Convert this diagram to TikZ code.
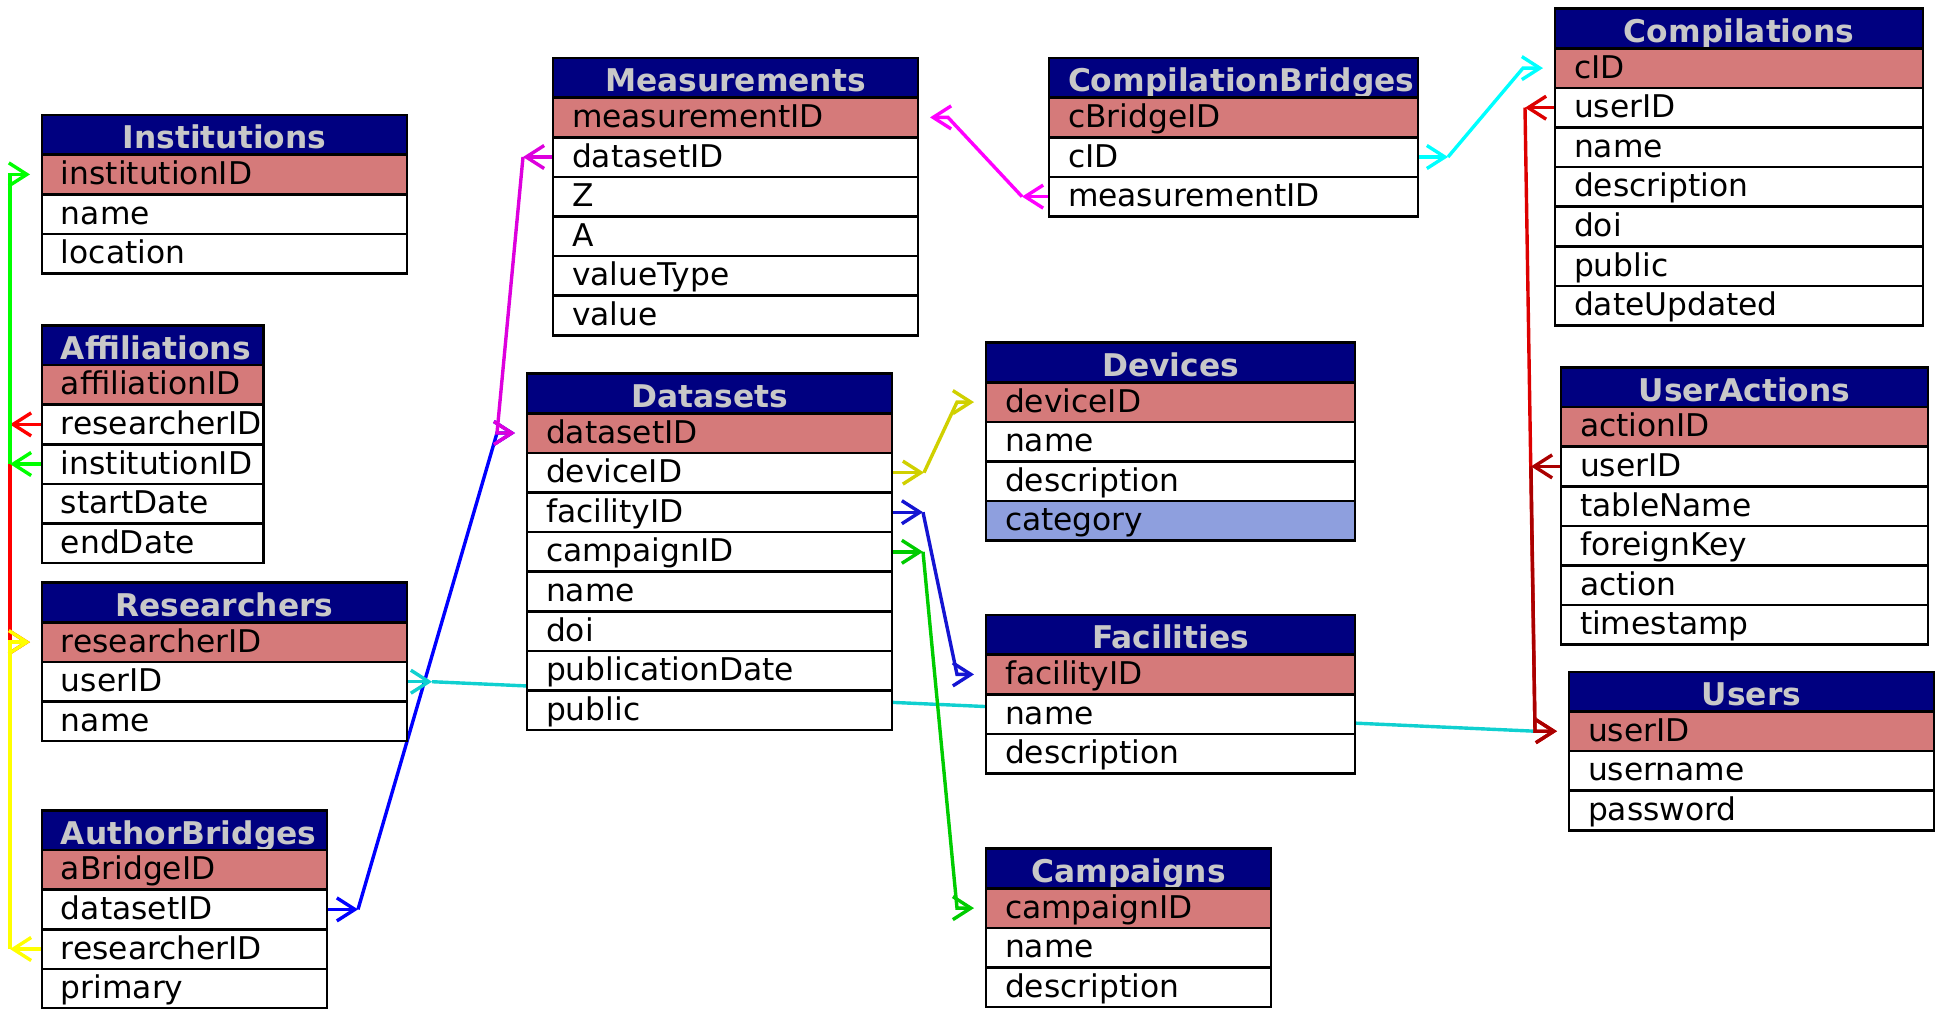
\documentclass[tikz,border=0pt]{standalone}
\usepackage{fontspec}
\setmainfont{DejaVu Sans}
\usetikzlibrary{positioning,arrows.meta,backgrounds}
\definecolor{hdrnavy}{HTML}{000080}
\definecolor{hdrgray}{HTML}{C8C8C8}
\definecolor{pkred}{HTML}{D57A7A}
\definecolor{catblue}{HTML}{8E9FDE}
\definecolor{lgreen}{HTML}{00FF00}
\definecolor{lred}{HTML}{FF0000}
\definecolor{lyellow}{HTML}{FFFF00}
\definecolor{lmagenta}{HTML}{DD00DD}
\definecolor{lpink}{HTML}{FF00FF}
\definecolor{lblue}{HTML}{0000FF}
\definecolor{lteal}{HTML}{10D0D0}
\definecolor{lolive}{HTML}{D0D000}
\definecolor{lmidblue}{HTML}{1414D2}
\definecolor{lgrass}{HTML}{00CC00}
\definecolor{lcyan}{HTML}{00FFFF}
\definecolor{lcrimson}{HTML}{DD0000}
\definecolor{ldarkred}{HTML}{AA0000}
\newcommand{\cellfont}{\fontsize{15.65}{18}\selectfont}
\tikzset{
    cell/.style={
        rectangle,
        draw,
        line width=1.3pt,
        outer sep=0pt,
        inner xsep=9.5pt,
        inner ysep=0pt,
        minimum height=19.8pt,
        text height=13pt,
        text depth=3pt,
        font=\cellfont
    },
    tblhead/.style={cell, fill=hdrnavy, text=hdrgray, font=\cellfont\bfseries, align=center,
        text height=15pt, text depth=1pt},
    field/.style={cell, fill=white, align=left},
    pkey/.style={field, fill=pkred},
    catfield/.style={field, fill=catblue},
    tw/.style={every node/.append style={text width=#1}},
    link/.style={line width=1.7pt, draw=#1},
    fk/.style={-{Straight Barb[length=9pt,width=11.5pt]}},
    pk/.style={-{Straight Barb[length=9pt,width=11.5pt]}, shorten >=6pt},
}
\begin{document}
\begin{tikzpicture}[x=0.5pt, y=-0.5pt]
\useasboundingbox (0,0) rectangle (1940,1008);

% Left column
\begin{scope}[tw=163.5pt]
\node[tblhead, anchor=north west] (inst) at (42,115) {Institutions};
\node[pkey, below=0pt of inst] (inst-1) {institutionID};
\node[field, below=0pt of inst-1] (inst-2) {name};
\node[field, below=0pt of inst-2] (inst-3) {location};
\end{scope}

\begin{scope}[tw=91.75pt]
\node[tblhead, anchor=north west] (aff) at (42,325.4) {Affiliations};
\node[pkey, below=0pt of aff] (aff-1) {affiliationID};
\node[field, below=0pt of aff-1] (aff-2) {researcherID};
\node[field, below=0pt of aff-2] (aff-3) {institutionID};
\node[field, below=0pt of aff-3] (aff-4) {startDate};
\node[field, below=0pt of aff-4] (aff-5) {endDate};
\end{scope}

\begin{scope}[tw=163.5pt]
\node[tblhead, anchor=north west] (res) at (42,582.7) {Researchers};
\node[pkey, below=0pt of res] (res-1) {researcherID};
\node[field, below=0pt of res-1] (res-2) {userID};
\node[field, below=0pt of res-2] (res-3) {name};
\end{scope}

\begin{scope}[tw=123.5pt]
\node[tblhead, anchor=north west] (ab) at (42,810.4) {AuthorBridges};
\node[pkey, below=0pt of ab] (ab-1) {aBridgeID};
\node[field, below=0pt of ab-1] (ab-2) {datasetID};
\node[field, below=0pt of ab-2] (ab-3) {researcherID};
\node[field, below=0pt of ab-3] (ab-4) {primary};
\end{scope}

% Middle column
\begin{scope}[tw=163.5pt]
\node[tblhead, anchor=north west] (meas) at (553,58) {Measurements};
\node[pkey, below=0pt of meas] (meas-1) {measurementID};
\node[field, below=0pt of meas-1] (meas-2) {datasetID};
\node[field, below=0pt of meas-2] (meas-3) {Z};
\node[field, below=0pt of meas-3] (meas-4) {A};
\node[field, below=0pt of meas-4] (meas-5) {valueType};
\node[field, below=0pt of meas-5] (meas-6) {value};

\node[tblhead, anchor=north west] (ds) at (527,373.6) {Datasets};
\node[pkey, below=0pt of ds] (ds-1) {datasetID};
\node[field, below=0pt of ds-1] (ds-2) {deviceID};
\node[field, below=0pt of ds-2] (ds-3) {facilityID};
\node[field, below=0pt of ds-3] (ds-4) {campaignID};
\node[field, below=0pt of ds-4] (ds-5) {name};
\node[field, below=0pt of ds-5] (ds-6) {doi};
\node[field, below=0pt of ds-6] (ds-7) {publicationDate};
\node[field, below=0pt of ds-7] (ds-8) {public};
\end{scope}

\begin{scope}[tw=165.5pt]
\node[tblhead, anchor=north west] (cb) at (1049,58) {CompilationBridges};
\node[pkey, below=0pt of cb] (cb-1) {cBridgeID};
\node[field, below=0pt of cb-1] (cb-2) {cID};
\node[field, below=0pt of cb-2] (cb-3) {measurementID};

\node[tblhead, anchor=north west] (dev) at (986,342.7) {Devices};
\node[pkey, below=0pt of dev] (dev-1) {deviceID};
\node[field, below=0pt of dev-1] (dev-2) {name};
\node[field, below=0pt of dev-2] (dev-3) {description};
\node[catfield, below=0pt of dev-3] (dev-4) {category};

\node[tblhead, anchor=north west] (fac) at (986,615) {Facilities};
\node[pkey, below=0pt of fac] (fac-1) {facilityID};
\node[field, below=0pt of fac-1] (fac-2) {name};
\node[field, below=0pt of fac-2] (fac-3) {description};
\end{scope}

\begin{scope}[tw=123.5pt]
\node[tblhead, anchor=north west] (camp) at (986,848.7) {Campaigns};
\node[pkey, below=0pt of camp] (camp-1) {campaignID};
\node[field, below=0pt of camp-1] (camp-2) {name};
\node[field, below=0pt of camp-2] (camp-3) {description};
\end{scope}

% Right column
\begin{scope}[tw=165pt]
\node[tblhead, anchor=north west] (comp) at (1555,8.7) {Compilations};
\node[pkey, below=0pt of comp] (comp-1) {cID};
\node[field, below=0pt of comp-1] (comp-2) {userID};
\node[field, below=0pt of comp-2] (comp-3) {name};
\node[field, below=0pt of comp-3] (comp-4) {description};
\node[field, below=0pt of comp-4] (comp-5) {doi};
\node[field, below=0pt of comp-5] (comp-6) {public};
\node[field, below=0pt of comp-6] (comp-7) {dateUpdated};
\end{scope}

\begin{scope}[tw=164.5pt]
\node[tblhead, anchor=north west] (ua) at (1561,367.4) {UserActions};
\node[pkey, below=0pt of ua] (ua-1) {actionID};
\node[field, below=0pt of ua-1] (ua-2) {userID};
\node[field, below=0pt of ua-2] (ua-3) {tableName};
\node[field, below=0pt of ua-3] (ua-4) {foreignKey};
\node[field, below=0pt of ua-4] (ua-5) {action};
\node[field, below=0pt of ua-5] (ua-6) {timestamp};
\end{scope}

\begin{scope}[tw=163.5pt]
\node[tblhead, anchor=north west] (usr) at (1569,671.8) {Users};
\node[pkey, below=0pt of usr] (usr-1) {userID};
\node[field, below=0pt of usr-1] (usr-2) {username};
\node[field, below=0pt of usr-2] (usr-3) {password};
\end{scope}

% Foreign keys, drawn behind the tables
\begin{scope}[on background layer]
% AuthorBridges.datasetID -> Datasets.datasetID
\draw[link=lblue, fk] (ab-2.east) -- ++(31,0) coordinate (b1);
\draw[link=lblue, pk] (b1) -- ([xshift=-15pt]ds-1.west) -- (ds-1.west);

% Researchers.userID -> Users.userID
\draw[link=lteal, fk] (res-2.east) -- ++(25,0) coordinate (t1);
\draw[link=lteal] (t1) -- ([xshift=-17pt]usr-1.west);

% Measurements.datasetID -> Datasets.datasetID
\draw[link=lmagenta, fk] (meas-2.west) -- ++(-30,0) coordinate (m1);
\draw[link=lmagenta, pk] (m1) -- ([xshift=-15pt]ds-1.west) -- (ds-1.west);

% Affiliations -> Researchers, Institutions; AuthorBridges -> Researchers
\draw[link=lred, fk] (aff-2.west) -- ++(-32,0) coordinate (r1);
\draw[link=lred, pk] (r1) |- (res-1.west);
\draw[link=lgreen, fk] (aff-3.west) -- ++(-32,0) coordinate (g1);
\draw[link=lgreen, pk] (g1) |- (inst-1.west);
\draw[link=lyellow, fk] (ab-3.west) -- ++(-32,0) coordinate (y1);
\draw[link=lyellow, pk] (y1) |- (res-1.west);

% Datasets -> Devices, Facilities, Campaigns
\draw[link=lolive, fk] (ds-2.east) -- ++(32,0) coordinate (o1);
\draw[link=lolive, pk] (o1) -- ([xshift=-14.5pt]dev-1.west) -- (dev-1.west);
\draw[link=lmidblue, fk] (ds-3.east) -- ++(31,0) coordinate (f1);
\draw[link=lmidblue, pk] (f1) -- ([xshift=-14.5pt]fac-1.west) -- (fac-1.west);
\draw[link=lgrass, fk] (ds-4.east) -- ++(31,0) coordinate (c1);
\draw[link=lgrass, pk] (c1) -- ([xshift=-14.5pt]camp-1.west) -- (camp-1.west);

% CompilationBridges -> Compilations, Measurements
\draw[link=lcyan, fk] (cb-2.east) -- ++(30,0) coordinate (q1);
\draw[link=lcyan, pk] (q1) -- ([xshift=-16pt]comp-1.west) -- (comp-1.west);
\draw[link=lpink, fk] (cb-3.west) -- ++(-27,0) coordinate (p1);
\draw[link=lpink, pk] (p1) -- ([xshift=15pt]meas-1.east) -- (meas-1.east);

% Compilations, UserActions -> Users
\draw[link=lcrimson, fk] (comp-2.west) -- ++(-30,0) coordinate (k1);
\draw[link=lcrimson, pk] (k1) -- ([xshift=-17pt]usr-1.west) -- (usr-1.west);
\draw[link=ldarkred, fk] (ua-2.west) -- ++(-30,0) coordinate (k2);
\draw[link=ldarkred, pk] (k2) -- ([xshift=-17pt]usr-1.west) -- (usr-1.west);
\end{scope}
\end{tikzpicture}
\end{document}
